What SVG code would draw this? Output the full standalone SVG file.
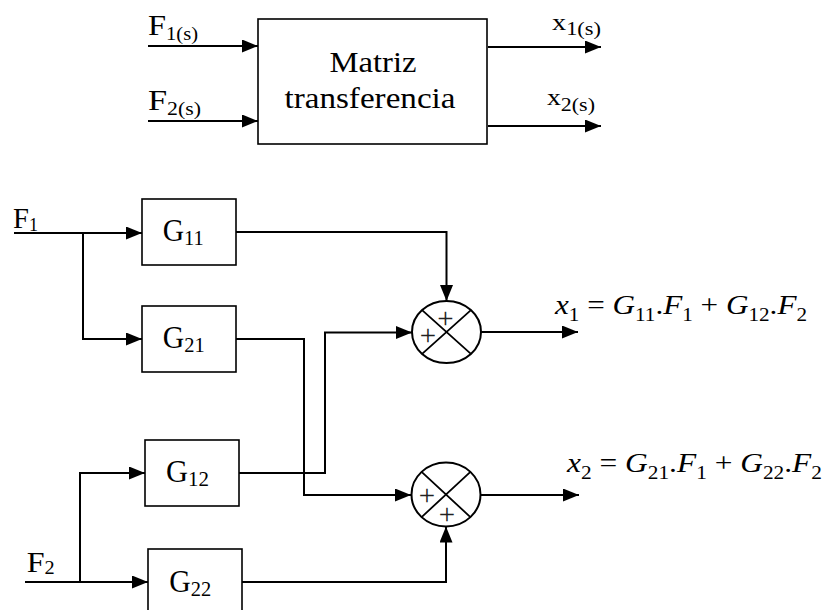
<svg xmlns="http://www.w3.org/2000/svg" width="829" height="610" viewBox="0 0 829 610">
<defs>
<style>
.box{fill:#fff;stroke:#000;stroke-width:1.6}
.sum{fill:#fff;stroke:#000;stroke-width:2}
.x{stroke:#000;stroke-width:1.8;fill:none}
.wire{fill:none;stroke:#000;stroke-width:2}
text{font-family:"Liberation Serif","Times New Roman",serif;fill:#000}
.big{font-size:30px}
.lab{font-size:30px}
.sub{font-size:19px}
.g{font-size:32px}
.gs{font-size:22px}
.eq{font-size:28px;font-style:italic}
.es{font-size:19px;font-style:normal}
.n{font-style:normal}
.plus{font-size:29px;fill:#222;text-anchor:middle}
</style>
<marker id="ah" viewBox="0 0 16 13" refX="16" refY="6.5" markerWidth="16" markerHeight="13" markerUnits="userSpaceOnUse" orient="auto">
<path d="M0,0 L16,6.5 L0,13 Z" fill="#000"/>
</marker>
</defs>
<rect x="0" y="0" width="829" height="610" fill="#fff"/>

<g id="connectors">
<path class="wire" d="M148,46 H258" marker-end="url(#ah)"/>
<path class="wire" d="M148,121 H258" marker-end="url(#ah)"/>
<path class="wire" d="M488,47 H601" marker-end="url(#ah)"/>
<path class="wire" d="M488,126 H601" marker-end="url(#ah)"/>
<path class="wire" d="M14,233 H142" marker-end="url(#ah)"/>
<path class="wire" d="M83,233 V339 H142" marker-end="url(#ah)"/>
<path class="wire" d="M236,232 H446.5 V301" marker-end="url(#ah)"/>
<path class="wire" d="M236,339 H304 V495 H411" marker-end="url(#ah)"/>
<path class="wire" d="M239,473 H325 V332.5 H412" marker-end="url(#ah)"/>
<path class="wire" d="M25,582 H148" marker-end="url(#ah)"/>
<path class="wire" d="M80,582 V473 H145" marker-end="url(#ah)"/>
<path class="wire" d="M241,582 H446 V526.5" marker-end="url(#ah)"/>
<path class="wire" d="M481,332 H578" marker-end="url(#ah)"/>
<path class="wire" d="M480,495 H579" marker-end="url(#ah)"/>
</g>

<g id="matriz">
<rect class="box" x="258" y="19" width="229" height="125"/>
<text class="big" x="373" y="72" text-anchor="middle" textLength="87" lengthAdjust="spacingAndGlyphs">Matriz</text>
<text class="big" x="370" y="108" text-anchor="middle" textLength="171" lengthAdjust="spacingAndGlyphs">transferencia</text>
</g>

<g id="in-labels">
<text class="lab" x="148" y="35" textLength="50" lengthAdjust="spacingAndGlyphs">F<tspan class="sub" dy="5">1(s)</tspan></text>
<text class="lab" x="148" y="110" textLength="53" lengthAdjust="spacingAndGlyphs">F<tspan class="sub" dy="5">2(s)</tspan></text>
<text class="lab" style="font-size:24px" x="552" y="30" textLength="49" lengthAdjust="spacingAndGlyphs">x<tspan class="sub" dy="5">1(s)</tspan></text>
<text class="lab" style="font-size:24px" x="547" y="105" textLength="48" lengthAdjust="spacingAndGlyphs">x<tspan class="sub" dy="6">2(s)</tspan></text>
</g>

<g id="F1">
<text class="lab" x="13" y="228" textLength="25" lengthAdjust="spacingAndGlyphs">F<tspan class="sub" dy="3">1</tspan></text>
</g>
<g id="F2">
<text class="lab" x="26.7" y="571.5" textLength="28" lengthAdjust="spacingAndGlyphs">F<tspan class="sub" dy="2">2</tspan></text>
</g>

<g id="G11">
<rect class="box" x="142" y="199" width="94" height="66"/>
<text class="g" x="162.7" y="241" textLength="41" lengthAdjust="spacingAndGlyphs">G<tspan class="gs" dy="4">11</tspan></text>
</g>
<g id="G21">
<rect class="box" x="142" y="306" width="94" height="66"/>
<text class="g" x="162.7" y="347.5" textLength="42" lengthAdjust="spacingAndGlyphs">G<tspan class="gs" dy="4">21</tspan></text>
</g>
<g id="G12">
<rect class="box" x="145" y="440" width="94" height="66"/>
<text class="g" x="166" y="482" textLength="43" lengthAdjust="spacingAndGlyphs">G<tspan class="gs" dy="4">12</tspan></text>
</g>
<g id="G22">
<rect class="box" x="148" y="549" width="94" height="66"/>
<text class="g" x="169.3" y="591.5" textLength="42" lengthAdjust="spacingAndGlyphs">G<tspan class="gs" dy="4">22</tspan></text>
</g>

<g id="sum1">
<ellipse class="sum" cx="446.5" cy="332" rx="34.5" ry="31"/>
<path class="x" d="M422.1,310.1 L470.9,353.9 M470.9,310.1 L422.1,353.9"/>
<text class="plus" x="445.5" y="328">+</text>
<text class="plus" x="428" y="345">+</text>
</g>
<g id="sum2">
<ellipse class="sum" cx="446" cy="494.5" rx="34.5" ry="32"/>
<path class="x" d="M421.6,471.9 L470.4,517.1 M470.4,471.9 L421.6,517.1"/>
<text class="plus" x="427" y="504.5">+</text>
<text class="plus" x="447" y="524">+</text>
</g>

<g id="eq1">
<text class="eq" x="555" y="314" textLength="252" lengthAdjust="spacingAndGlyphs">x<tspan class="es" dy="7">1</tspan><tspan class="n" dy="-7"> = </tspan>G<tspan class="es" dy="7">11</tspan><tspan class="n" dy="-7">.</tspan>F<tspan class="es" dy="7">1</tspan><tspan class="n" dy="-7"> + </tspan>G<tspan class="es" dy="7">12</tspan><tspan class="n" dy="-7">.</tspan>F<tspan class="es" dy="7">2</tspan></text>
</g>
<g id="eq2">
<text class="eq" x="567" y="472" textLength="255" lengthAdjust="spacingAndGlyphs">x<tspan class="es" dy="7">2</tspan><tspan class="n" dy="-7"> = </tspan>G<tspan class="es" dy="7">21</tspan><tspan class="n" dy="-7">.</tspan>F<tspan class="es" dy="7">1</tspan><tspan class="n" dy="-7"> + </tspan>G<tspan class="es" dy="7">22</tspan><tspan class="n" dy="-7">.</tspan>F<tspan class="es" dy="7">2</tspan></text>
</g>
</svg>
